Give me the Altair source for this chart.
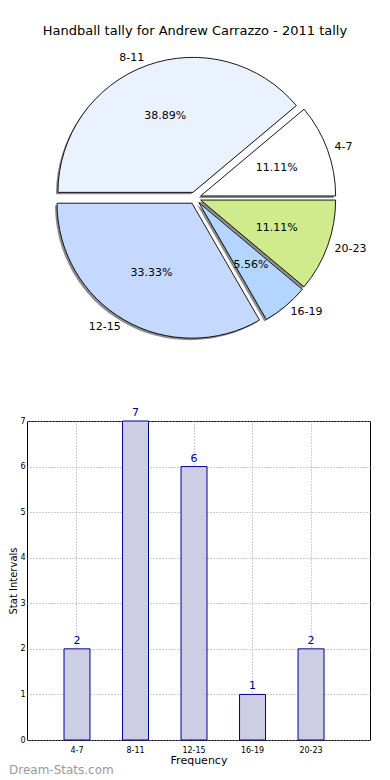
import math
import altair as alt
import pandas as pd

# ---- data ----
categories = ["4-7", "8-11", "12-15", "16-19", "20-23"]
counts = [2, 7, 6, 1, 2]
pie_colors = ["#ffffff", "#ebf2ff", "#c5d9ff", "#b4d5ff", "#d0eb8b"]
title_text = "Handball tally for Andrew Carrazzo - 2011 tally"
x_title = "Frequency"
y_title = "Stat Intervals"
watermark = "Dream-Stats.com"
y_ticks = [0, 1, 2, 3, 4, 5, 6, 7]

total = sum(counts)
df = pd.DataFrame({"cat": categories, "count": counts, "idx": list(range(len(categories)))})

FONT = "DejaVu Sans"

# ---- pie geometry ----
R = 135
EXPLODE = 6
PW, PH = 354, 310
CX, CY = 168, 156
xs = alt.Scale(domain=[-CX, PW - CX], nice=False, zero=False)
ys = alt.Scale(domain=[-(PH - CY), CY], nice=False, zero=False)
theta_scale = alt.Scale(domain=[0, total], range=[math.pi / 2, math.pi / 2 - 2 * math.pi])

pie_base = (
    alt.Chart(df)
    .transform_window(cum="sum(count)", sort=[alt.SortField("idx")], frame=[None, 0])
    .transform_calculate(
        c0="datum.cum - datum.count",
        mid=f"(datum.cum - datum.count/2)/{total}*2*PI",
    )
    .transform_calculate(
        ex=f"{EXPLODE}*cos(datum.mid)",
        ey=f"{EXPLODE}*sin(datum.mid)",
        sx=f"{EXPLODE}*cos(datum.mid) - 2",
        sy=f"{EXPLODE}*sin(datum.mid) - 2",
        px=f"{EXPLODE}*cos(datum.mid) + {0.6 * R}*cos(datum.mid)",
        py=f"{EXPLODE}*sin(datum.mid) + {0.6 * R}*sin(datum.mid)",
        lx=f"{1.1 * R}*cos(datum.mid)",
        ly=f"{1.1 * R}*sin(datum.mid)",
        pct=f"format(datum.count/{total}*100, '.2f') + '%'",
    )
)

shadow = pie_base.mark_arc(radius=R, fill="#8c8c8c", strokeOpacity=0).encode(
    theta=alt.Theta("c0:Q", scale=theta_scale, stack=None),
    theta2="cum:Q",
    x=alt.X("sx:Q", scale=xs, axis=None),
    y=alt.Y("sy:Q", scale=ys, axis=None),
)

slices = pie_base.mark_arc(radius=R, stroke="#000000", strokeWidth=0.9).encode(
    theta=alt.Theta("c0:Q", scale=theta_scale, stack=None),
    theta2="cum:Q",
    x=alt.X("ex:Q", scale=xs, axis=None),
    y=alt.Y("ey:Q", scale=ys, axis=None),
    color=alt.Color("cat:N", scale=alt.Scale(domain=categories, range=pie_colors), legend=None),
)

pct_text = pie_base.mark_text(font=FONT, fontSize=11, color="#000000").encode(
    x=alt.X("px:Q", scale=xs, axis=None),
    y=alt.Y("py:Q", scale=ys, axis=None),
    text="pct:N",
)

lab_right = pie_base.transform_filter("cos(datum.mid) >= 0").mark_text(
    font=FONT, fontSize=11, color="#000000", align="left"
).encode(
    x=alt.X("lx:Q", scale=xs, axis=None),
    y=alt.Y("ly:Q", scale=ys, axis=None),
    text="cat:N",
)
lab_left = pie_base.transform_filter("cos(datum.mid) < 0").mark_text(
    font=FONT, fontSize=11, color="#000000", align="right"
).encode(
    x=alt.X("lx:Q", scale=xs, axis=None),
    y=alt.Y("ly:Q", scale=ys, axis=None),
    text="cat:N",
)

pie = alt.layer(shadow, slices, pct_text, lab_right, lab_left).properties(
    width=PW, height=PH, view=alt.ViewBackground(stroke="transparent")
)

# ---- bar chart ----
BW, BH = 343, 319
bar_base = alt.Chart(df).encode(
    x=alt.X(
        "cat:N",
        sort=categories,
        scale=alt.Scale(paddingInner=0.556, paddingOuter=0.709, align=0.446),
        axis=alt.Axis(
            title=x_title, labelAngle=0, labelFontSize=8, labelFont=FONT, titleFont=FONT,
            titleFontSize=11, titleFontWeight="normal", titleColor="#000000", labelColor="#000000",
            grid=True, gridDash=[1, 2], gridColor="#a0a0a0", ticks=False, domain=False,
            bandPosition=0.5, labelPadding=6, titlePadding=0,
        ),
    ),
    y=alt.Y(
        "count:Q",
        scale=alt.Scale(domain=[0, 7], nice=False),
        axis=alt.Axis(
            title=y_title, values=y_ticks, labelFontSize=8, labelFont=FONT, titleFont=FONT,
            titleFontSize=10, titleFontWeight="normal", titleColor="#000000", labelColor="#000000",
            grid=True, gridDash=[1, 2], gridColor="#a0a0a0", ticks=False, domain=False,
            labelPadding=2, titlePadding=1,
        ),
    ),
)
bars = bar_base.mark_bar(fill="#cdcde3", stroke="#00008b", strokeWidth=1)
bar_labels = bar_base.mark_text(dy=-8, color="#00008b", fontSize=11, font=FONT).encode(text="count:Q")
wm = alt.Chart(pd.DataFrame({"t": [watermark]})).mark_text(
    align="left", baseline="middle", fontSize=12, color="#9a9a9a", font=FONT
).encode(x=alt.value(-18), y=alt.value(BH + 30), text="t:N")

bar = alt.layer(bars, bar_labels, wm).properties(width=BW, height=BH)

chart = (
    alt.vconcat(pie, bar, spacing=53)
    .properties(
        title=alt.TitleParams(title_text, font=FONT, fontSize=13, fontWeight="normal", anchor="middle", offset=4),
        padding={"left": 0, "top": 16, "right": 0, "bottom": 0},
    )
    .configure_view(stroke="#000000", strokeWidth=1)
)

chart.save("out.html", embed_options={"renderer": "svg", "actions": False})
